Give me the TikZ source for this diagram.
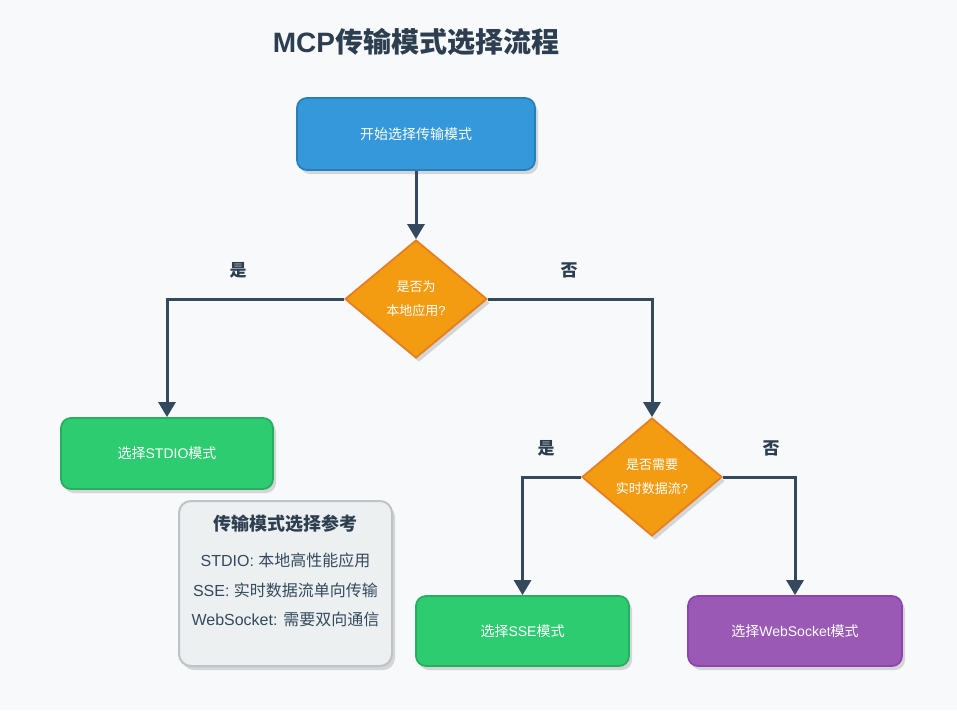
\documentclass[tikz,border=0pt]{standalone}
\usepackage{fontspec}
\setmainfont{Liberation Sans}
\newfontfamily\cjk{Noto Sans CJK SC}
\usetikzlibrary{shapes.geometric,arrows.meta,shadows}
\definecolor{bgc}{HTML}{F8F9FA}
\definecolor{linec}{HTML}{34495E}
\definecolor{titlec}{HTML}{2C3E50}
\definecolor{bluef}{HTML}{3498DB}
\definecolor{blued}{HTML}{2980B9}
\definecolor{orangef}{HTML}{F39C12}
\definecolor{oranged}{HTML}{E67E22}
\definecolor{greenf}{HTML}{2ECC71}
\definecolor{greend}{HTML}{27AE60}
\definecolor{purplef}{HTML}{9B59B6}
\definecolor{purpled}{HTML}{8E44AD}
\definecolor{reff}{HTML}{ECF0F1}
\definecolor{refd}{HTML}{BDC3C7}
\begin{document}
\begin{tikzpicture}[x=1pt,y=-1pt,
  shd/.style={drop shadow={shadow xshift=3pt,shadow yshift=-4pt,opacity=0.14,fill=black}},
  procbox/.style={shd,rectangle,rounded corners=10pt,line width=1.8pt,minimum width=#1,text=white,font=\fontsize{14}{16}\selectfont,inner sep=0pt},
  decbox/.style={shd,diamond,line width=1.8pt,fill=orangef,draw=oranged,text=white,font=\fontsize{13}{24}\selectfont,align=center,inner sep=0pt},
  flow/.style={draw=linec,line width=3pt,-{Triangle[width=17pt,length=15pt]}},
  yn/.style={text=titlec,font=\fontsize{17}{20}\selectfont\bfseries}
]
\useasboundingbox (0,0) rectangle (957,710);
\fill[bgc] (0,0) rectangle (957,710);

\node[text=titlec,font=\fontsize{28}{32}\selectfont\bfseries] (title) at (416,42) {MCP{\cjk 传输模式选择流程}};

\node[procbox=238pt,minimum height=72pt,fill=bluef,draw=blued] (start) at (416,134) {\cjk 开始选择传输模式};

\node[decbox,minimum width=142pt,minimum height=118pt] (d1) at (416,299) {{\cjk 是否为}\\{\cjk 本地应用}?};

\node[procbox=212pt,minimum height=71pt,fill=greenf,draw=greend] (stdio) at (167,453.5) {{\cjk 选择}STDIO{\cjk 模式}};

\node[decbox,minimum width=140pt,minimum height=118pt] (d2) at (652,477) {{\cjk 是否需要}\\{\cjk 实时数据流}?};

\node[procbox=213pt,minimum height=70pt,fill=greenf,draw=greend] (sse) at (522.5,631) {{\cjk 选择}SSE{\cjk 模式}};
\node[procbox=214pt,minimum height=70pt,fill=purplef,draw=purpled] (ws) at (795,631) {{\cjk 选择}WebSocket{\cjk 模式}};

\node[shd,rectangle,rounded corners=12pt,line width=2pt,fill=reff,draw=refd,minimum width=213pt,minimum height=165pt,inner sep=0pt] (ref) at (285.5,583.5) {};
\node[text=titlec,font=\fontsize{18}{20}\selectfont\bfseries] (reft) at (285.5,524) {\cjk 传输模式选择参考};
\node[text=linec,font=\fontsize{16}{18}\selectfont] (ref1) at (285.5,560) {STDIO: {\cjk 本地高性能应用}};
\node[text=linec,font=\fontsize{16}{18}\selectfont] (ref2) at (285.5,590) {SSE: {\cjk 实时数据流单向传输}};
\node[text=linec,font=\fontsize{16}{18}\selectfont] (ref3) at (285.5,619) {WebSocket: {\cjk 需要双向通信}};

\path[flow] (start.south) -- (d1.north);
\path[flow] (d1.west) -| (stdio.north);
\path[flow] (d1.east) -| (d2.north);
\path[flow] (d2.west) -| (sse.north);
\path[flow] (d2.east) -| (ws.north);

\node[yn] (y1) at (238,270) {\cjk 是};
\node[yn] (n1) at (569,270) {\cjk 否};
\node[yn] (y2) at (546,448) {\cjk 是};
\node[yn] (n2) at (771,448) {\cjk 否};
\end{tikzpicture}
\end{document}
